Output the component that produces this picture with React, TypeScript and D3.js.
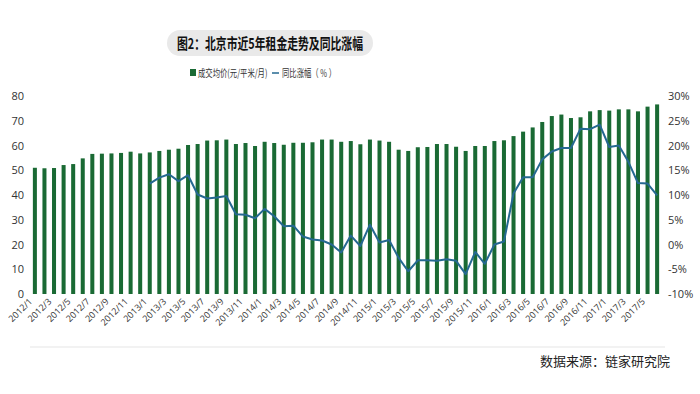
import * as d3 from 'd3';

const months: string[] = [];
for (let y = 2012; y <= 2017; y++) {
  for (let m = 1; m <= 12; m++) {
    if (y === 2017 && m > 6) break;
    months.push(`${y}/${m}`);
  }
}

// 成交均价 (元/平米/月)
const price = [
  51.0, 50.8, 50.9, 52.1, 52.5, 54.8, 56.6, 56.7, 56.8, 57.0, 57.5, 56.8,
  57.2, 57.8, 58.3, 58.7, 60.2, 60.6, 62.0, 62.1, 62.4, 60.6, 61.0, 59.8,
  61.5, 61.0, 60.3, 61.1, 61.1, 61.3, 62.4, 62.4, 61.5, 61.8, 60.5, 62.4,
  62.0, 61.5, 58.3, 57.8, 59.3, 59.4, 60.6, 60.6, 59.5, 57.8, 59.8, 59.8,
  61.8, 62.1, 63.8, 65.6, 67.3, 69.5, 71.9, 72.5, 71.1, 71.4, 73.8, 74.3,
  74.1, 74.6, 74.6, 73.8, 75.7, 76.6,
];

// 同比涨幅 (%) — starts 2013/1
const yoy: (number | null)[] = [
  null, null, null, null, null, null, null, null, null, null, null, null,
  12.3, 13.5, 14.2, 12.8, 14.0, 10.1, 9.3, 9.5, 9.8, 6.1, 6.0, 5.3,
  7.2, 5.7, 3.7, 3.8, 1.6, 1.0, 0.8, 0.0, -1.6, 1.8, -0.3, 4.0,
  0.4, 0.9, -2.7, -5.4, -3.2, -3.2, -3.3, -3.0, -3.3, -6.0, -1.5, -3.9,
  0.0, 0.6, 10.3, 13.6, 13.6, 17.2, 18.8, 19.5, 19.5, 23.4, 23.3, 24.2,
  19.7, 20.0, 16.7, 12.4, 12.3, 9.9,
];

const leftTicks = [0, 10, 20, 30, 40, 50, 60, 70, 80];
const rightTicks = [-10, -5, 0, 5, 10, 15, 20, 25, 30];

const GREEN = '#1a6a34';
const BLUE = '#256891';
const FONT = '"Open Sans", "Noto Sans CJK SC", sans-serif';
const CJK = '"Noto Sans CJK SC", sans-serif';

export default function App() {
  const width = 700;
  const height = 394;
  const x = d3.scaleBand<string>().domain(months).range([30, 662]).paddingInner(0.58).paddingOuter(0.3);
  const yL = d3.scaleLinear().domain([0, 80]).range([294, 96]);
  const yR = d3.scaleLinear().domain([-10, 30]).range([294, 96]);
  const cx = (m: string) => (x(m) ?? 0) + x.bandwidth() / 2;

  const line = d3
    .line<number | null>()
    .defined((d) => d !== null)
    .x((_, i) => cx(months[i]))
    .y((d) => yR(d as number));

  // legend is drawn narrow, as in the source image
  const sx = 0.7;

  return (
    <svg width={width} height={height} style={{ position: 'absolute', left: 0, top: 0, background: '#fff' }}>
      {/* title */}
      <rect x={167} y={30} width={206} height={26} rx={13} fill="#e9e9e9" />
      <text x={270} y={49} textAnchor="middle" fontFamily={CJK} fontWeight="bold" fontSize={15} fill="#111"
        textLength={186} lengthAdjust="spacingAndGlyphs">
        图2：北京市近5年租金走势及同比涨幅
      </text>

      {/* legend */}
      <rect x={190} y={69} width={6} height={7} fill={GREEN} />
      <g transform={`translate(198,77) scale(${sx},1)`}>
        <text x={0} y={0} fontFamily={CJK} fontSize={10.5} fill="#333">
          成交均价(元/平米/月)
        </text>
        <line x1={(272 - 198) / sx} x2={(279 - 198) / sx} y1={-4} y2={-4} stroke={BLUE} strokeWidth={1.5} />
        <text x={(282 - 198) / sx} y={0} fontFamily={CJK} fontSize={10.5} fill="#333">
          同比涨幅（ % ）
        </text>
      </g>

      {/* left axis */}
      {leftTicks.map((t) => (
        <text key={t} x={24} y={yL(t) + 4} textAnchor="end" fontFamily={FONT} fontSize={11} fill="#333">
          {t}
        </text>
      ))}
      {/* right axis */}
      {rightTicks.map((t) => (
        <text key={t} x={668} y={yR(t) + 4} textAnchor="start" fontFamily={FONT} fontSize={11} fill="#333">
          {t}%
        </text>
      ))}

      {/* bars */}
      {months.map((m, i) => (
        <rect key={m} x={x(m)} y={yL(price[i])} width={x.bandwidth()} height={yL(0) - yL(price[i])} fill={GREEN} />
      ))}

      {/* yoy line */}
      <path d={line(yoy) ?? ''} fill="none" stroke={BLUE} strokeWidth={2} strokeLinejoin="round" />

      {/* x labels */}
      {months.map((m, i) =>
        i % 2 === 0 ? (
          <text key={m} transform={`translate(${cx(m) - 2},${302}) rotate(-45)`} textAnchor="end"
            fontFamily={FONT} fontSize={9} fill="#333">
            {m}
          </text>
        ) : null
      )}

      <line x1={30} x2={665} y1={347} y2={347} stroke="#eeeeee" strokeWidth={1.5} />

      <text x={670} y={366} textAnchor="end" fontFamily={CJK} fontSize={13} fill="#222">
        数据来源：链家研究院
      </text>
    </svg>
  );
}
